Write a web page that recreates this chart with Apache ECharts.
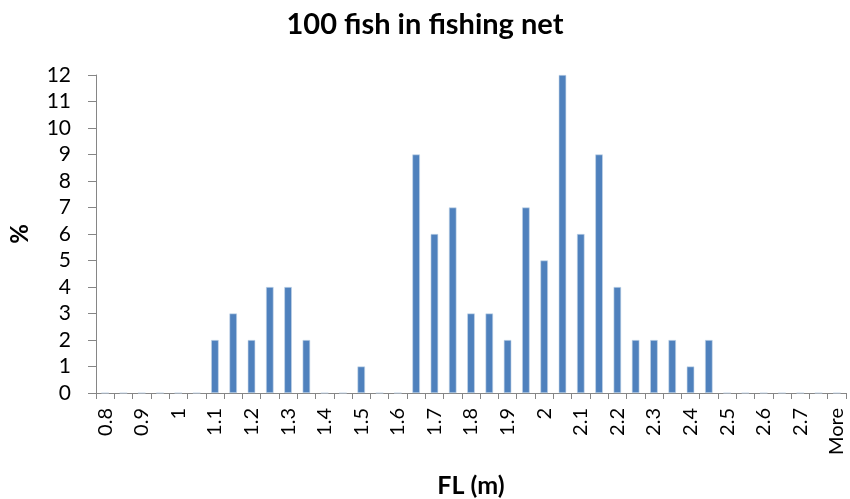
<!DOCTYPE html>
<html>
<head>
<meta charset="utf-8">
<script src="https://cdn.jsdelivr.net/npm/echarts@6/dist/echarts.min.js"></script>
<style>
  html, body { margin: 0; padding: 0; background: #fff; }
  #chart { width: 850px; height: 499px; }
</style>
</head>
<body>
<div id="chart"></div>
<script>
// Fork-length bins (m), upper edge of each 0.05 m bin
const bins = ['0.8', '0.85', '0.9', '0.95', '1', '1.05', '1.1', '1.15', '1.2', '1.25',
  '1.3', '1.35', '1.4', '1.45', '1.5', '1.55', '1.6', '1.65', '1.7', '1.75',
  '1.8', '1.85', '1.9', '1.95', '2', '2.05', '2.1', '2.15', '2.2', '2.25',
  '2.3', '2.35', '2.4', '2.45', '2.5', '2.55', '2.6', '2.65', '2.7', '2.75', 'More'];

// Share of the 100 fish in each bin (%)
const percent = [0, 0, 0, 0, 0, 0, 2, 3, 2, 4,
  4, 2, 0, 0, 1, 0, 0, 9, 6, 7,
  3, 3, 2, 7, 5, 12, 6, 9, 4, 2,
  2, 2, 1, 2, 0, 0, 0, 0, 0, 0, 0];

const yTicks = { min: 0, max: 12, step: 1 };

const FONT = 'Lato, "Open Sans", sans-serif';
const AXIS_GREY = '#868686';

const chart = echarts.init(document.getElementById('chart'), null, { renderer: 'canvas' });
chart.setOption({
  animation: false,
  backgroundColor: '#ffffff',
  title: {
    text: '100 fish in fishing net',
    left: 'center',
    top: 5,
    textStyle: { fontFamily: FONT, fontSize: 29, fontWeight: 'bold', color: '#000' }
  },
  grid: { left: 96, right: 4, top: 75, bottom: 106, containLabel: false, outerBoundsMode: 'none' },
  xAxis: {
    type: 'category',
    data: bins,
    boundaryGap: true,
    name: 'FL (m)',
    nameLocation: 'middle',
    nameGap: 80,
    nameTextStyle: { fontFamily: FONT, fontSize: 25, fontWeight: 'bold', color: '#000' },
    axisLine: { show: true, lineStyle: { color: AXIS_GREY, width: 1 } },
    axisTick: { show: true, interval: 0, length: 6, lineStyle: { color: AXIS_GREY } },
    axisLabel: {
      interval: 1,
      rotate: 90,
      margin: 15,
      fontFamily: FONT,
      fontSize: 20,
      color: '#000'
    },
    splitLine: { show: false }
  },
  yAxis: {
    type: 'value',
    min: yTicks.min,
    max: yTicks.max,
    interval: yTicks.step,
    name: '%',
    nameLocation: 'middle',
    nameGap: 64,
    nameRotate: 90,
    nameTextStyle: { fontFamily: FONT, fontSize: 24, fontWeight: 'bold', color: '#000' },
    axisLine: { show: true, lineStyle: { color: AXIS_GREY, width: 1 } },
    axisTick: { show: true, length: 8, lineStyle: { color: AXIS_GREY } },
    axisLabel: { margin: 25, fontFamily: FONT, fontSize: 21, color: '#000' },
    splitLine: { show: false }
  },
  series: [{
    type: 'bar',
    data: percent,
    barWidth: 7.5,
    itemStyle: { color: '#4F81BD', borderColor: '#c6d6ea', borderWidth: 0.6 }
  }]
});
</script>
</body>
</html>
